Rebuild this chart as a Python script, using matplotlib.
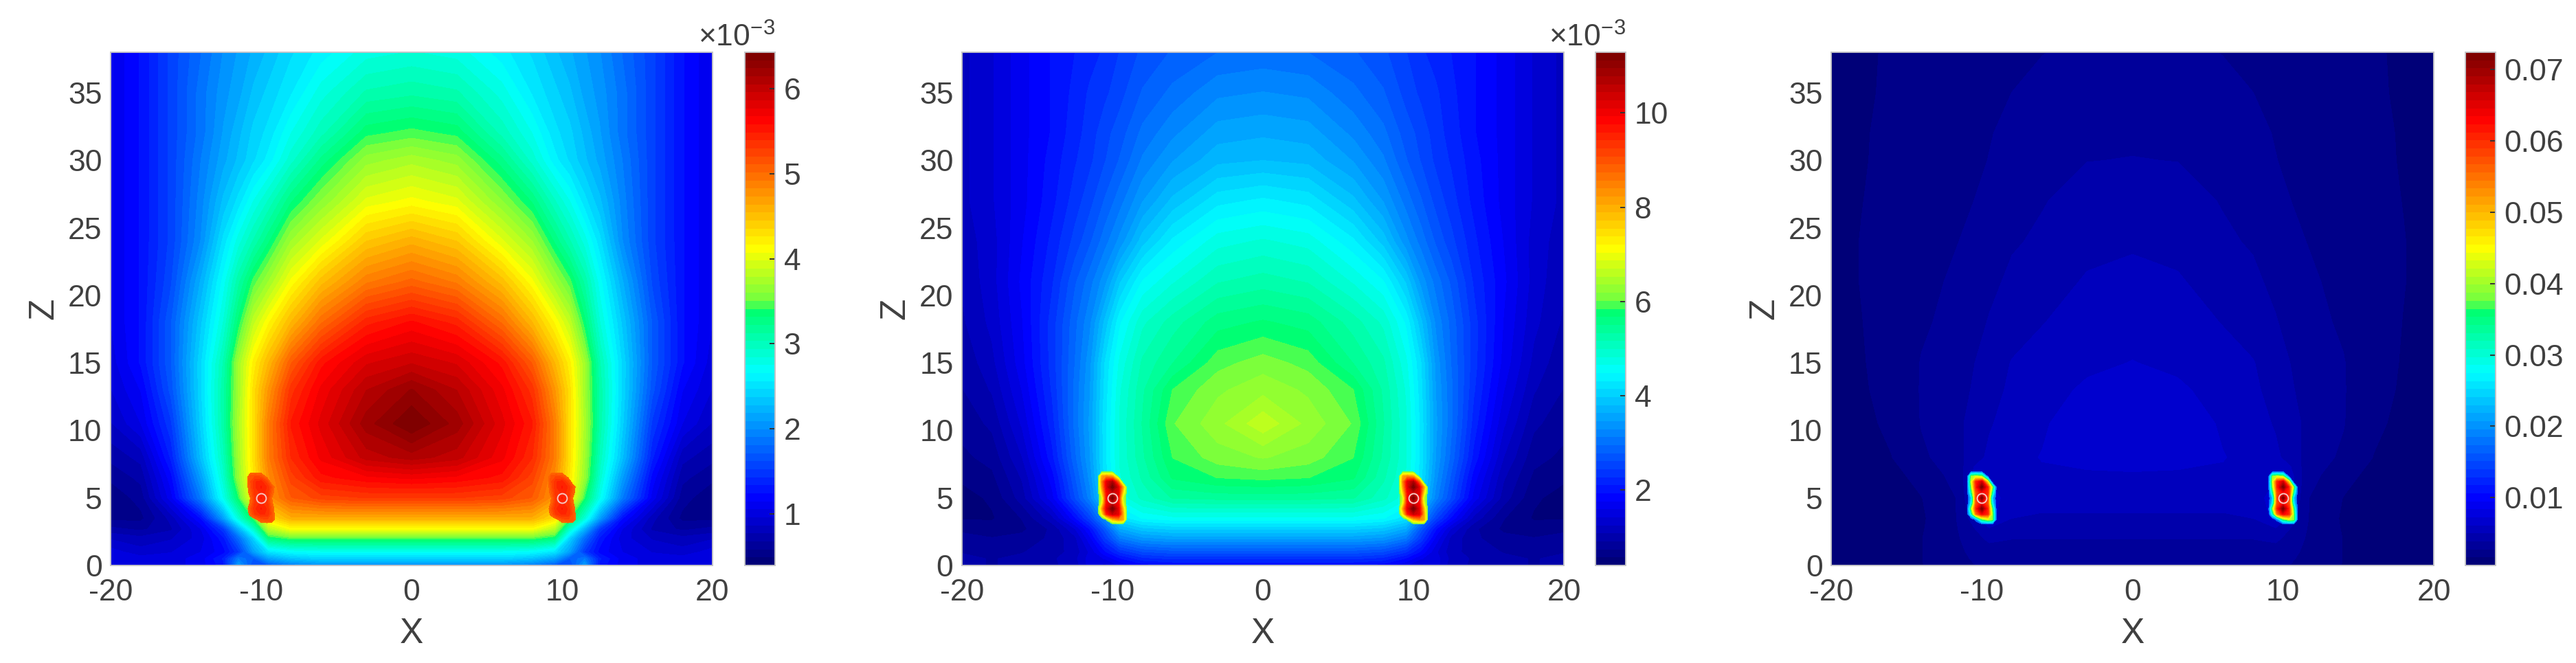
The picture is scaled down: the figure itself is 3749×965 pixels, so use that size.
import numpy as np
import matplotlib
matplotlib.use("Agg")
import matplotlib.pyplot as plt
from matplotlib.cm import ScalarMappable
from matplotlib.colors import LinearSegmentedColormap, Normalize

plt.rcParams["font.family"] = ["Liberation Sans", "DejaVu Sans"]
plt.rcParams["mathtext.default"] = "regular"
plt.rcParams["axes.unicode_minus"] = False

W, H = 3749, 965
TEXT = "#404040"
EDGE = "#c4c4c8"

# half of the field, mirrored about x = 0 when drawn
X_HALF = [0, 3, 6, 8, 9.5, 10.5, 11.5, 12.5, 14, 16, 18, 20]
Z_ROWS = [0, 0.5, 1, 2, 2.7, 3.5, 5, 6.5, 8, 10.5, 13, 15, 18, 21, 24, 27, 30, 32, 35, 38]

# values, in units of 1e-3, one row per Z_ROWS
FIELD_A = [
    [2.0, 2.0, 2.0, 1.9, 1.7, 1.6, 2.1, 1.3, 1.1, 1.0, 1.0, 1.05],
    [2.4, 2.4, 2.4, 2.3, 2.1, 1.7, 1.9, 1.35, 1.1, 1.0, 1.0, 1.05],
    [2.7, 2.7, 2.7, 2.65, 2.5, 2.1, 1.5, 1.2, 1.05, 0.95, 0.9, 1.0],
    [3.45, 3.45, 3.45, 3.45, 3.3, 2.4, 1.8, 1.3, 1.0, 0.85, 0.8, 0.85],
    [4.1, 4.1, 4.1, 4.1, 3.8, 2.9, 2.2, 1.5, 1.05, 0.75, 0.65, 0.7],
    [4.6, 4.6, 4.6, 4.6, 4.3, 3.45, 2.85, 2.1, 1.25, 0.8, 0.55, 0.55],
    [5.3, 5.3, 5.25, 5.1, 4.75, 4.2, 3.4, 2.75, 1.9, 1.1, 0.62, 0.5],
    [5.7, 5.65, 5.55, 5.25, 4.8, 4.25, 3.65, 2.9, 2.1, 1.2, 0.7, 0.6],
    [6.1, 6.0, 5.7, 5.4, 4.9, 4.3, 3.7, 3.0, 2.3, 1.35, 0.8, 0.7],
    [6.43, 6.2, 5.8, 5.5, 4.9, 4.3, 3.75, 3.1, 2.4, 1.5, 1.05, 0.85],
    [6.25, 6.05, 5.7, 5.35, 4.75, 4.3, 3.7, 3.1, 2.45, 1.65, 1.15, 0.95],
    [5.95, 5.85, 5.55, 5.1, 4.55, 4.2, 3.7, 3.05, 2.45, 1.7, 1.25, 1.0],
    [5.6, 5.45, 5.0, 4.55, 4.15, 3.85, 3.35, 2.85, 2.35, 1.7, 1.25, 1.05],
    [5.05, 4.9, 4.5, 4.1, 3.7, 3.45, 3.1, 2.7, 2.2, 1.6, 1.25, 1.05],
    [4.6, 4.45, 4.0, 3.7, 3.3, 3.05, 2.8, 2.5, 2.0, 1.55, 1.25, 1.05],
    [4.1, 4.0, 3.6, 3.3, 2.95, 2.75, 2.5, 2.3, 1.95, 1.55, 1.25, 1.05],
    [3.75, 3.65, 3.25, 2.9, 2.6, 2.45, 2.3, 2.15, 1.9, 1.55, 1.25, 1.05],
    [3.45, 3.38, 3.0, 2.75, 2.5, 2.4, 2.25, 2.1, 1.85, 1.55, 1.25, 1.05],
    [3.1, 3.05, 2.8, 2.55, 2.4, 2.3, 2.15, 2.05, 1.85, 1.55, 1.25, 1.05],
    [2.85, 2.8, 2.6, 2.45, 2.3, 2.2, 2.1, 2.0, 1.8, 1.55, 1.25, 1.05],
]
FIELD_B = [
    [1.9, 1.9, 1.9, 1.85, 1.6, 1.35, 1.5, 1.15, 1.05, 0.95, 0.9, 0.95],
    [2.3, 2.3, 2.3, 2.2, 1.9, 1.6, 1.5, 1.2, 1.05, 0.95, 0.9, 0.95],
    [2.7, 2.7, 2.7, 2.6, 2.3, 1.9, 1.45, 1.15, 1.0, 0.9, 0.85, 0.9],
    [3.5, 3.5, 3.5, 3.4, 3.1, 2.4, 1.7, 1.2, 0.95, 0.8, 0.75, 0.8],
    [4.0, 4.0, 4.0, 3.9, 3.6, 2.7, 1.95, 1.4, 0.95, 0.7, 0.65, 0.7],
    [4.6, 4.6, 4.6, 4.5, 4.2, 3.3, 2.5, 1.9, 1.2, 0.75, 0.55, 0.55],
    [5.4, 5.4, 5.35, 5.05, 4.7, 4.05, 3.2, 2.6, 1.7, 1.0, 0.6, 0.5],
    [5.9, 5.85, 5.7, 5.2, 4.8, 4.2, 3.35, 2.75, 1.85, 1.1, 0.7, 0.6],
    [6.2, 6.1, 5.85, 5.3, 4.85, 4.25, 3.45, 2.9, 2.05, 1.25, 0.8, 0.7],
    [6.65, 6.3, 6.0, 5.35, 4.85, 4.25, 3.5, 3.0, 2.2, 1.45, 0.95, 0.8],
    [6.3, 6.15, 5.85, 5.3, 4.8, 4.2, 3.45, 3.0, 2.3, 1.6, 1.1, 0.9],
    [6.1, 5.95, 5.5, 5.2, 4.7, 4.15, 3.4, 2.95, 2.35, 1.7, 1.2, 0.95],
    [5.7, 5.6, 5.25, 4.95, 4.45, 3.85, 3.25, 2.9, 2.35, 1.75, 1.3, 1.05],
    [5.25, 5.15, 4.8, 4.5, 3.95, 3.4, 3.05, 2.75, 2.25, 1.8, 1.35, 1.1],
    [4.85, 4.75, 4.35, 3.9, 3.35, 3.05, 2.75, 2.5, 2.15, 1.75, 1.35, 1.15],
    [4.35, 4.25, 3.85, 3.45, 3.05, 2.8, 2.55, 2.35, 2.05, 1.7, 1.4, 1.2],
    [3.8, 3.75, 3.45, 3.15, 2.8, 2.6, 2.4, 2.25, 2.0, 1.7, 1.4, 1.2],
    [3.6, 3.55, 3.25, 3.0, 2.7, 2.55, 2.35, 2.2, 1.95, 1.7, 1.4, 1.2],
    [3.3, 3.25, 3.0, 2.8, 2.55, 2.4, 2.3, 2.15, 1.95, 1.7, 1.4, 1.2],
    [3.0, 2.95, 2.8, 2.65, 2.45, 2.3, 2.2, 2.1, 1.95, 1.7, 1.4, 1.2],
]
FIELD_C = [
    [2.9, 2.9, 2.9, 2.85, 2.85, 2.7, 2.3, 1.9, 1.6, 1.2, 1.0, 0.9],
    [3.1, 3.1, 3.1, 3.1, 3.1, 2.9, 2.4, 1.95, 1.6, 1.2, 1.0, 0.9],
    [3.4, 3.4, 3.4, 3.35, 3.4, 3.1, 2.5, 2.0, 1.6, 1.2, 0.95, 0.85],
    [3.9, 3.9, 3.9, 3.9, 4.1, 3.5, 2.7, 2.1, 1.6, 1.15, 0.9, 0.8],
    [4.3, 4.3, 4.3, 4.3, 4.8, 3.8, 2.8, 2.1, 1.55, 1.1, 0.85, 0.75],
    [4.8, 4.8, 4.8, 5.0, 6.5, 4.5, 2.9, 2.1, 1.5, 1.05, 0.8, 0.7],
    [5.5, 5.5, 5.5, 5.2, 7.0, 5.5, 2.9, 2.2, 1.6, 1.05, 0.8, 0.7],
    [6.0, 6.0, 6.0, 5.8, 6.0, 5.5, 3.3, 2.7, 1.9, 1.3, 1.0, 0.8],
    [6.4, 6.3, 6.15, 5.9, 5.2, 4.6, 3.5, 3.05, 2.55, 1.6, 1.2, 0.95],
    [7.2, 6.7, 6.0, 5.4, 4.9, 4.6, 3.55, 3.15, 2.8, 1.8, 1.4, 1.1],
    [6.5, 6.3, 5.7, 5.2, 4.6, 4.0, 3.5, 3.2, 2.82, 1.95, 1.5, 1.15],
    [6.15, 5.9, 5.4, 5.05, 4.4, 3.85, 3.45, 3.15, 2.8, 2.0, 1.55, 1.2],
    [5.7, 5.5, 4.95, 4.5, 3.95, 3.5, 3.15, 2.9, 2.6, 2.0, 1.6, 1.25],
    [5.3, 5.1, 4.55, 4.1, 3.6, 3.25, 2.95, 2.75, 2.45, 1.95, 1.65, 1.3],
    [4.85, 4.7, 4.05, 3.75, 3.25, 3.0, 2.75, 2.55, 2.3, 1.95, 1.65, 1.3],
    [4.4, 4.3, 3.8, 3.4, 3.0, 2.75, 2.6, 2.45, 2.15, 1.9, 1.6, 1.25],
    [3.9, 3.85, 3.5, 3.1, 2.77, 2.6, 2.45, 2.35, 2.1, 1.85, 1.55, 1.25],
    [3.7, 3.65, 3.3, 2.95, 2.7, 2.55, 2.4, 2.25, 2.05, 1.8, 1.55, 1.2],
    [3.45, 3.35, 3.0, 2.75, 2.55, 2.45, 2.3, 2.2, 2.0, 1.75, 1.5, 1.2],
    [3.0, 2.95, 2.72, 2.55, 2.4, 2.3, 2.2, 2.1, 1.95, 1.75, 1.45, 1.2],
]

# the hot spots at the two sources, relative height 0..1 around each source
SOURCE_X = [-10, 10]
SOURCE_Z = [5, 5]
SPOT_DX = [-1.0, -0.7, -0.4, 0, 0.4, 0.7, 1.0]
SPOT_Z = [3.0, 3.4, 3.8, 4.2, 4.6, 5.0, 5.4, 5.8, 6.2, 6.6, 7.0]
SPOT_SHAPE = [
    [0, 0, 0, 0, 0, 0, 0],
    [0, 0, 0.1, 0.4, 0.5, 0.45, 0],
    [0, 0.3, 0.7, 0.85, 0.8, 0.45, 0],
    [0, 0.45, 0.8, 1, 0.8, 0.4, 0],
    [0, 0.25, 0.75, 0.85, 0.75, 0.25, 0],
    [0, 0.2, 0.75, 1, 0.75, 0.2, 0],
    [0, 0.35, 0.75, 0.85, 0.8, 0.35, 0],
    [0, 0.45, 0.8, 1, 0.8, 0.45, 0],
    [0, 0.5, 0.8, 0.9, 0.55, 0, 0],
    [0, 0.45, 0.5, 0.45, 0.05, 0, 0],
    [0, 0, 0, 0, 0, 0, 0],
]

X_TICKS = [-20, -10, 0, 10, 20]
Z_TICKS = [0, 5, 10, 15, 20, 25, 30, 35]

# colour scale: position along the bar and colour, jet with a step in the green
CMAP_POS = [0, 0.125, 0.375, 0.495, 0.515, 0.62, 0.875, 1]
CMAP_COL = ["#000078", "#0000ff", "#00ffff", "#00ff70", "#70ff40", "#ffff00", "#ff0000", "#800000"]
jet_step = LinearSegmentedColormap.from_list("jet_step", list(zip(CMAP_POS, CMAP_COL)), N=64)

panels = [
    dict(field=FIELD_A, scale=1e-3, vmin=0.39e-3, vmax=6.43e-3, spot=(4.9e-3, 5.5e-3),
         box=(161, 1037), cbox=(1084, 1128), cticks=[1e-3, 2e-3, 3e-3, 4e-3, 5e-3, 6e-3],
         clabels=["1", "2", "3", "4", "5", "6"], offset=True),
    dict(field=FIELD_B, scale=1e-3, vmin=0.40e-3, vmax=11.29e-3, spot=(5.5e-3, 11.29e-3),
         box=(1400, 2276), cbox=(2322, 2366), cticks=[2e-3, 4e-3, 6e-3, 8e-3, 10e-3],
         clabels=["2", "4", "6", "8", "10"], offset=True),
    dict(field=FIELD_C, scale=1e-3, vmin=0.0005, vmax=0.0724, spot=(0.012, 0.0724),
         box=(2665, 3542), cbox=(3588, 3632), cticks=[0.01, 0.02, 0.03, 0.04, 0.05, 0.06, 0.07],
         clabels=["0.01", "0.02", "0.03", "0.04", "0.05", "0.06", "0.07"], offset=False),
]

TOP, BOTTOM = 76, 823


def px_axes(fig, x0, x1):
    return fig.add_axes([x0 / W, 1 - BOTTOM / H, (x1 - x0) / W, (BOTTOM - TOP) / H])


def draw_panel(fig, p):
    ax = px_axes(fig, *p["box"])
    norm = Normalize(p["vmin"], p["vmax"])
    levels = np.linspace(p["vmin"], p["vmax"], 65)

    half = np.array(p["field"]) * p["scale"]
    x = np.concatenate([-np.array(X_HALF)[:0:-1], X_HALF])
    values = np.hstack([half[:, :0:-1], half])
    ax.contourf(x, Z_ROWS, values, levels=levels, cmap=jet_step, norm=norm, extend="both")

    low, high = p["spot"]
    spot_levels = levels[levels >= low + 0.06 * (high - low)]
    spot_colors = jet_step(norm(0.5 * (spot_levels[:-1] + spot_levels[1:])))
    spot_values = low + (high - low) * np.array(SPOT_SHAPE)
    for sx in SOURCE_X:
        ax.contourf(sx + np.array(SPOT_DX), SPOT_Z, spot_values, levels=spot_levels,
                    colors=spot_colors, zorder=2)

    ax.plot(SOURCE_X, SOURCE_Z, ls="none", marker="o", ms=10, mfc="none", mec="#f6c9c4",
            mew=1.4, zorder=3)

    ax.set_xlim(-20, 20)
    ax.set_ylim(0, 38)
    ax.set_xticks(X_TICKS)
    ax.set_yticks(Z_TICKS)
    ax.tick_params(length=0, labelsize=32, labelcolor=TEXT)
    ax.tick_params(axis="x", pad=14)
    ax.tick_params(axis="y", pad=9)
    ax.set_xlabel("X", fontsize=37, color=TEXT)
    ax.set_ylabel("Z", fontsize=37, color=TEXT)
    ax.xaxis.set_label_coords(0.5, -100 / 747, transform=ax.transAxes)
    ax.xaxis.label.set_verticalalignment("center")
    ax.yaxis.set_label_coords(-97 / 876, 0.5, transform=ax.transAxes)
    ax.yaxis.label.set_verticalalignment("center")
    for s in ax.spines.values():
        s.set_color(EDGE)
        s.set_linewidth(1.4)

    cax = px_axes(fig, *p["cbox"])
    cb = fig.colorbar(ScalarMappable(norm=norm, cmap=jet_step), cax=cax)
    cb.set_ticks(p["cticks"], labels=p["clabels"])
    cax.tick_params(direction="in", length=6, width=1.4, color="#333333", labelsize=32,
                    labelcolor=TEXT, pad=9)
    cb.outline.set_edgecolor(EDGE)
    cb.outline.set_linewidth(1.4)
    if p["offset"]:
        fig.text(p["cbox"][1] / W, 1 - 68 / H, r"$\times 10^{-3}$", ha="right", va="baseline",
                 fontsize=32, color=TEXT)


def main():
    fig = plt.figure(figsize=(W / 100, H / 100), dpi=100)
    for p in panels:
        draw_panel(fig, p)
    fig.savefig("out.png", dpi=100)


if __name__ == "__main__":
    main()
